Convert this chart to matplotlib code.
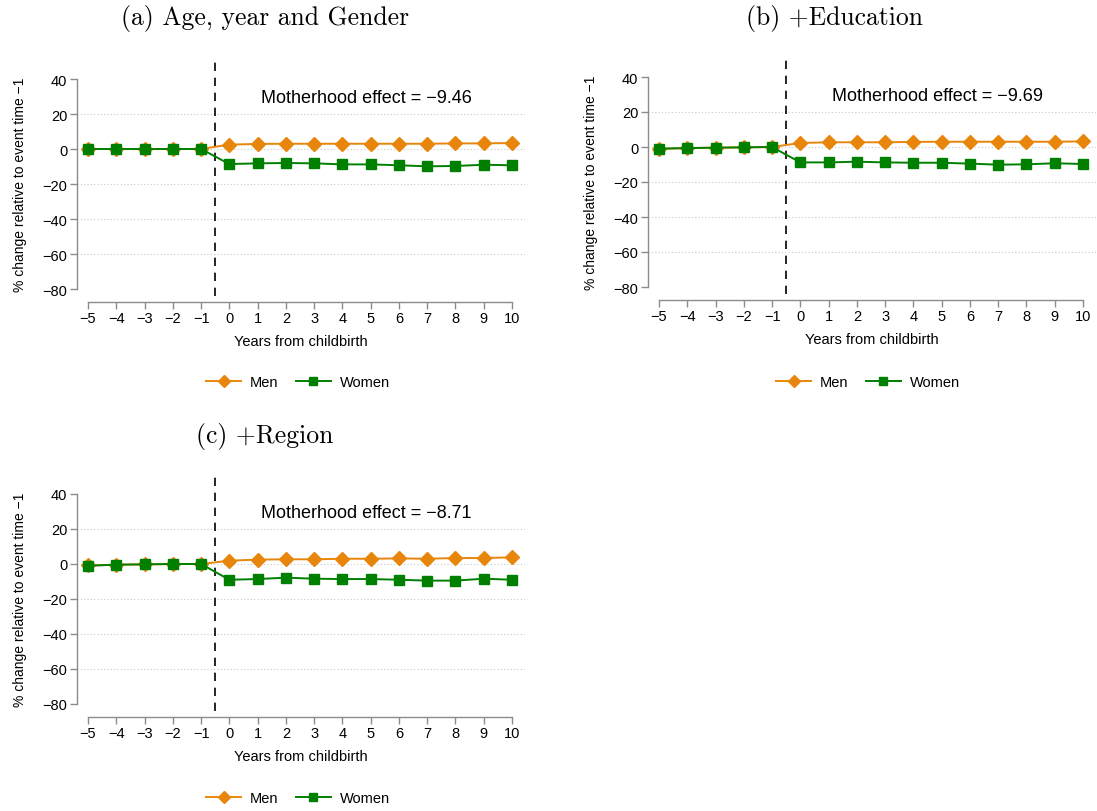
import matplotlib
matplotlib.use("Agg")
import matplotlib.pyplot as plt
from matplotlib.lines import Line2D

years = [-5, -4, -3, -2, -1, 0, 1, 2, 3, 4, 5, 6, 7, 8, 9, 10]

men_a = [0, 0, 0, 0, 0, 2.5, 2.9, 3.0, 3.0, 3.0, 3.0, 3.0, 3.0, 3.2, 3.2, 3.4]
women_a = [0, 0, 0, 0, 0, -8.6, -8.2, -8.0, -8.2, -8.8, -8.8, -9.3, -9.9, -9.7, -9.0, -9.3]

men_b = [-1.0, -0.6, -0.4, -0.2, 0, 2.3, 2.7, 2.7, 2.7, 2.9, 3.0, 3.0, 3.0, 3.0, 3.0, 3.2]
women_b = [-1.0, -0.6, -0.4, -0.2, 0, -8.8, -8.8, -8.4, -8.8, -9.0, -9.0, -9.5, -10.1, -9.9, -9.3, -9.7]

men_c = [-0.8, -0.4, -0.2, 0, 0, 1.9, 2.5, 2.7, 2.7, 3.0, 3.0, 3.2, 3.0, 3.4, 3.4, 3.8]
women_c = [-1.0, -0.4, -0.2, 0, 0, -9.0, -8.6, -7.8, -8.4, -8.6, -8.6, -9.0, -9.5, -9.5, -8.4, -9.0]

titles = ["(a) Age, year and Gender", "(b) +Education", "(c) +Region"]
effects = ["Motherhood effect = \u22129.46", "Motherhood effect = \u22129.69", "Motherhood effect = \u22128.71"]
yticks = [-80, -60, -40, -20, 0, 20, 40]
grid_vals = [-60, -40, -20, 0, 20]

ORANGE = "#E8860C"
GREEN = "#008000"
SPINE = "#8c8c8c"
SANS = ["Liberation Sans", "DejaVu Sans"]

W, H = 1097, 812
fig = plt.figure(figsize=(W / 100, H / 100), dpi=100)

def px_axes(left, right, top, bottom):
    return fig.add_axes([left / W, 1 - bottom / H, (right - left) / W, (bottom - top) / H])

panels = [
    dict(x0=88, y0=80, men=men_a, women=women_a, title_xy=(265, 19), leg_xy=(298, 383)),
    dict(x0=659, y0=78, men=men_b, women=women_b, title_xy=(835, 19), leg_xy=(868, 383)),
    dict(x0=88, y0=495, men=men_c, women=women_c, title_xy=(265, 437), leg_xy=(298, 799)),
]

ppu_x = 424 / 15.0
for i, p in enumerate(panels):
    left = p["x0"] - 11
    right = p["x0"] + 424 + 13
    top = p["y0"]
    bottom = p["y0"] + 210
    ax = px_axes(left, right, top, bottom)
    ax.set_xlim(-5 - 11 / ppu_x, 10 + 13 / ppu_x)
    ax.set_ylim(-80, 40)
    for g in grid_vals:
        ax.axhline(g, color="#c8c8c8", lw=0.8, ls=(0, (1, 2)), zorder=0)
    ax.axvline(-0.5, ymin=-0.033, ymax=1.086, color="black", lw=1.2, ls=(0, (5, 4)), clip_on=False, zorder=1)
    ax.plot(years, p["men"], color=ORANGE, marker="D", markersize=7, lw=1.4, clip_on=False, zorder=3)
    ax.plot(years, p["women"], color=GREEN, marker="s", markersize=6.5, lw=1.4, clip_on=False, zorder=4)
    ax.text(4.85, 29.7, effects[i], ha="center", va="center", fontsize=13, family=SANS)

    for s in ["top", "right"]:
        ax.spines[s].set_visible(False)
    ax.spines["left"].set_bounds(-80, 40)
    ax.spines["bottom"].set_bounds(-5, 10)
    ax.spines["bottom"].set_position(("outward", 9))
    for s in ["left", "bottom"]:
        ax.spines[s].set_color(SPINE)
        ax.spines[s].set_linewidth(1.0)
    ax.set_xticks(years)
    ax.set_xticklabels([str(y).replace("-", "\u2212") for y in years], family=SANS, fontsize=10.5)
    ax.set_yticks(yticks)
    ax.set_yticklabels([str(y).replace("-", "\u2212") for y in yticks], family=SANS, fontsize=10.5)
    ax.tick_params(axis="both", color=SPINE, length=5, width=1.0, pad=2)
    ax.set_xlabel("Years from childbirth", family=SANS, fontsize=10.5, labelpad=6)
    ax.set_ylabel("% change relative to event time \u22121", family=SANS, fontsize=10, labelpad=11)

    tx, ty = p["title_xy"]
    fig.text(tx / W, 1 - ty / H, titles[i], ha="center", va="center", fontsize=18.5, family=["cmr10", "DejaVu Serif"])

    handles = [
        Line2D([], [], color=ORANGE, marker="D", markersize=6, lw=1.4),
        Line2D([], [], color=GREEN, marker="s", markersize=5.5, lw=1.4),
    ]
    lx, ly = p["leg_xy"]
    fig.legend(handles, ["Men", "Women"], loc="center", bbox_to_anchor=(lx / W, 1 - ly / H), ncol=2,
               frameon=False, prop={"family": SANS, "size": 10.5}, handlelength=2.4, columnspacing=1.2,
               handletextpad=0.6)

fig.savefig("out.png", dpi=100)
